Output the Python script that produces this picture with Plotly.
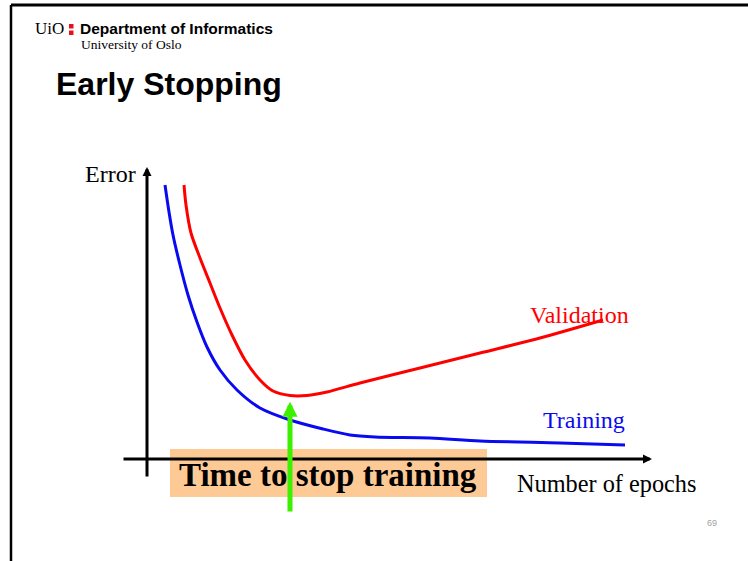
import plotly.graph_objects as go

# curves (epochs, error) - origin at the axis crossing
train_epochs = [1.8, 2.2, 2.6, 3.3, 4.1, 5.0, 6.0, 7.3, 9.0, 11.3, 14.3, 17.6, 20.3, 22.8, 28.3, 33.3, 41.3, 47.8]
train_error = [27.4, 24.7, 22.4, 19.4, 16.4, 13.7, 11.2, 8.9, 6.9, 5.1, 3.9, 3.0, 2.4, 2.2, 2.1, 1.8, 1.6, 1.4]
valid_epochs = [3.7, 3.9, 4.4, 5.3, 6.3, 7.3, 8.5, 9.8, 11.3, 12.6, 14.3, 16.0, 18.0, 21.3, 27.3, 33.3, 39.3, 45.6]
valid_error = [27.4, 25.4, 22.6, 20.1, 17.6, 15.1, 12.4, 9.9, 7.9, 6.8, 6.35, 6.35, 6.7, 7.6, 9.1, 10.6, 12.1, 13.9]
stop_epoch = 14.3

W, H = 748, 561
SERIF = "Liberation Serif, Times New Roman, serif"
SANS = "Liberation Sans, Arial, sans-serif"


def px(x):
    return x / W


def py(y):
    return 1 - y / H


fig = go.Figure()
fig.add_trace(go.Scatter(x=train_epochs, y=train_error, mode="lines",
                         line=dict(color="#0a0af0", width=3, shape="spline", smoothing=0.8),
                         hoverinfo="skip"))
fig.add_trace(go.Scatter(x=valid_epochs, y=valid_error, mode="lines",
                         line=dict(color="#ff0000", width=3, shape="spline", smoothing=0.8),
                         hoverinfo="skip"))

anns = []
# axes with arrow heads
anns.append(dict(x=0, y=29.2, ax=0, ay=-1.9, xref="x", yref="y", axref="x", ayref="y",
                 text="", showarrow=True, arrowhead=2, arrowsize=0.6, arrowwidth=3, arrowcolor="black"))
anns.append(dict(x=50.5, y=0, ax=-2.5, ay=0, xref="x", yref="y", axref="x", ayref="y",
                 text="", showarrow=True, arrowhead=2, arrowsize=0.6, arrowwidth=3, arrowcolor="black"))

# labels
anns.append(dict(x=px(138), y=py(174), xref="paper", yref="paper", xanchor="right", yanchor="middle",
                 text="Error", showarrow=False, font=dict(family=SERIF, size=24, color="black")))
anns.append(dict(x=px(528), y=py(315), xref="paper", yref="paper", xanchor="left", yanchor="middle",
                 text="Validation", showarrow=False, font=dict(family=SERIF, size=24, color="#ff0000")))
anns.append(dict(x=px(541), y=py(419.5), xref="paper", yref="paper", xanchor="left", yanchor="middle",
                 text="Training", showarrow=False, font=dict(family=SERIF, size=24, color="#0a0af0")))
anns.append(dict(x=px(515), y=py(483), xref="paper", yref="paper", xanchor="left", yanchor="middle",
                 text="Number of epochs", showarrow=False, font=dict(family=SERIF, size=24.3, color="black")))
anns.append(dict(x=px(177), y=py(475), xref="paper", yref="paper", xanchor="left", yanchor="middle",
                 text="<b>Time to stop training</b>", showarrow=False,
                 font=dict(family=SERIF, size=33, color="black")))

# green "stop here" arrow
anns.append(dict(x=stop_epoch, y=5.73, ax=stop_epoch, ay=-5.4, xref="x", yref="y", axref="x", ayref="y",
                 text="", showarrow=True, arrowhead=2, arrowsize=0.6, arrowwidth=5, arrowcolor="#3cf000"))

# slide header
anns.append(dict(x=px(33), y=py(28.5), xref="paper", yref="paper", xanchor="left", yanchor="middle",
                 text="UiO", showarrow=False, font=dict(family=SERIF, size=17, color="black")))
anns.append(dict(x=px(78), y=py(28.3), xref="paper", yref="paper", xanchor="left", yanchor="middle",
                 text="<b>Department of Informatics</b>", showarrow=False,
                 font=dict(family=SANS, size=15.5, color="black")))
anns.append(dict(x=px(79), y=py(45), xref="paper", yref="paper", xanchor="left", yanchor="middle",
                 text="University of Oslo", showarrow=False, font=dict(family=SERIF, size=13.5, color="black")))
anns.append(dict(x=px(54), y=py(84), xref="paper", yref="paper", xanchor="left", yanchor="middle",
                 text="<b>Early Stopping</b>", showarrow=False, font=dict(family=SANS, size=32, color="black")))
anns.append(dict(x=px(705), y=py(523), xref="paper", yref="paper", xanchor="left", yanchor="middle",
                 text="69", showarrow=False, font=dict(family=SANS, size=9, color="#a0a0a0")))

shapes = [
    # peach label box
    dict(type="rect", xref="paper", yref="paper", x0=px(170), x1=px(487), y0=py(497), y1=py(449),
         fillcolor="#fdca96", line=dict(width=0), layer="above"),
    # slide frame
    dict(type="line", xref="paper", yref="paper", x0=px(11), x1=1, y0=py(5), y1=py(5),
         line=dict(color="black", width=3)),
    dict(type="line", xref="paper", yref="paper", x0=px(11), x1=px(11), y0=py(5), y1=0,
         line=dict(color="black", width=2.5)),
    # red colon of the UiO logo
    dict(type="rect", xref="paper", yref="paper", x0=px(69), x1=px(73.5), y0=py(28.5), y1=py(24),
         fillcolor="#e8101c", line=dict(width=0)),
    dict(type="rect", xref="paper", yref="paper", x0=px(69), x1=px(73.5), y0=py(35), y1=py(30.5),
         fillcolor="#e8101c", line=dict(width=0)),
]

fig.update_layout(
    width=W, height=H, margin=dict(l=0, r=0, t=0, b=0),
    paper_bgcolor="white", plot_bgcolor="white", showlegend=False,
    xaxis=dict(range=[-14.7, 60.1], visible=False, fixedrange=True),
    yaxis=dict(range=[-10.2, 45.9], visible=False, fixedrange=True),
    annotations=anns, shapes=shapes,
)

fig.write_html("out.html", config={"displayModeBar": False},
               post_script="document.body.style.margin='0';")
